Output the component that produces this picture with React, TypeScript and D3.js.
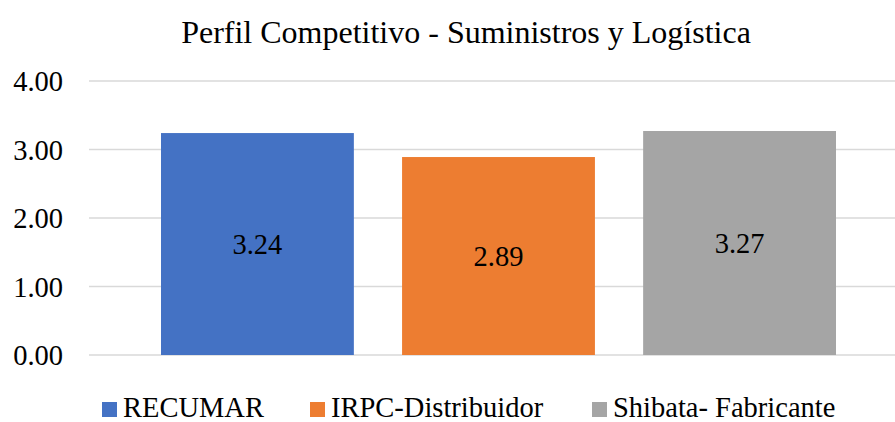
import React from "react";
import * as d3 from "d3";

const series = ["RECUMAR", "IRPC-Distribuidor", "Shibata- Fabricante"];
const values = [3.24, 2.89, 3.27];
const colors = ["#4472C4", "#ED7D31", "#A5A5A5"];
const yTicks = [0, 1, 2, 3, 4];
const title = "Perfil Competitivo - Suministros y Logística";

const W = 895;
const H = 422;
const font = '"Liberation Serif", "Times New Roman", serif';
// left edge of each legend entry (layout only)
const legendX = [102, 310, 592];

export default function App() {
  const y = d3.scaleLinear().domain([0, 4]).range([355, 81]);
  const x = d3
    .scaleBand<string>()
    .domain(series)
    .range([161, 836])
    .paddingInner(0.2)
    .paddingOuter(0);

  return (
    <svg width={W} height={H} style={{ position: "absolute", left: 0, top: 0, background: "#fff" }}>
      <text x={466} y={43} textAnchor="middle" fontSize={32} style={{ fontFamily: font }}>
        {title}
      </text>

      {yTicks.map(t => (
        <line key={"g" + t} x1={89} x2={W} y1={y(t)} y2={y(t)} stroke="#D9D9D9" strokeWidth={1.5} />
      ))}
      {yTicks.map(t => (
        <text key={"t" + t} x={63} y={y(t) + 10} textAnchor="end" fontSize={28} style={{ fontFamily: font, fontSize: "28.5px" }}>
          {t.toFixed(2)}
        </text>
      ))}

      {values.map((v, i) => (
        <rect
          key={"b" + i}
          x={x(series[i])}
          y={y(v)}
          width={x.bandwidth()}
          height={y(0) - y(v)}
          fill={colors[i]}
        />
      ))}
      {values.map((v, i) => (
        <text
          key={"l" + i}
          x={(x(series[i]) as number) + x.bandwidth() / 2}
          y={(y(v) + y(0)) / 2 + 10}
          textAnchor="middle"
          style={{ fontFamily: font, fontSize: "28.5px" }}
        >
          {v.toFixed(2)}
        </text>
      ))}

      {series.map((s, i) => (
        <rect key={"s" + i} x={legendX[i]} y={402} width={15} height={15} fill={colors[i]} />
      ))}
      {series.map((s, i) => (
        <text key={"n" + i} x={legendX[i] + 21} y={417} style={{ fontFamily: font, fontSize: "28.5px" }}>
          {s}
        </text>
      ))}
    </svg>
  );
}
